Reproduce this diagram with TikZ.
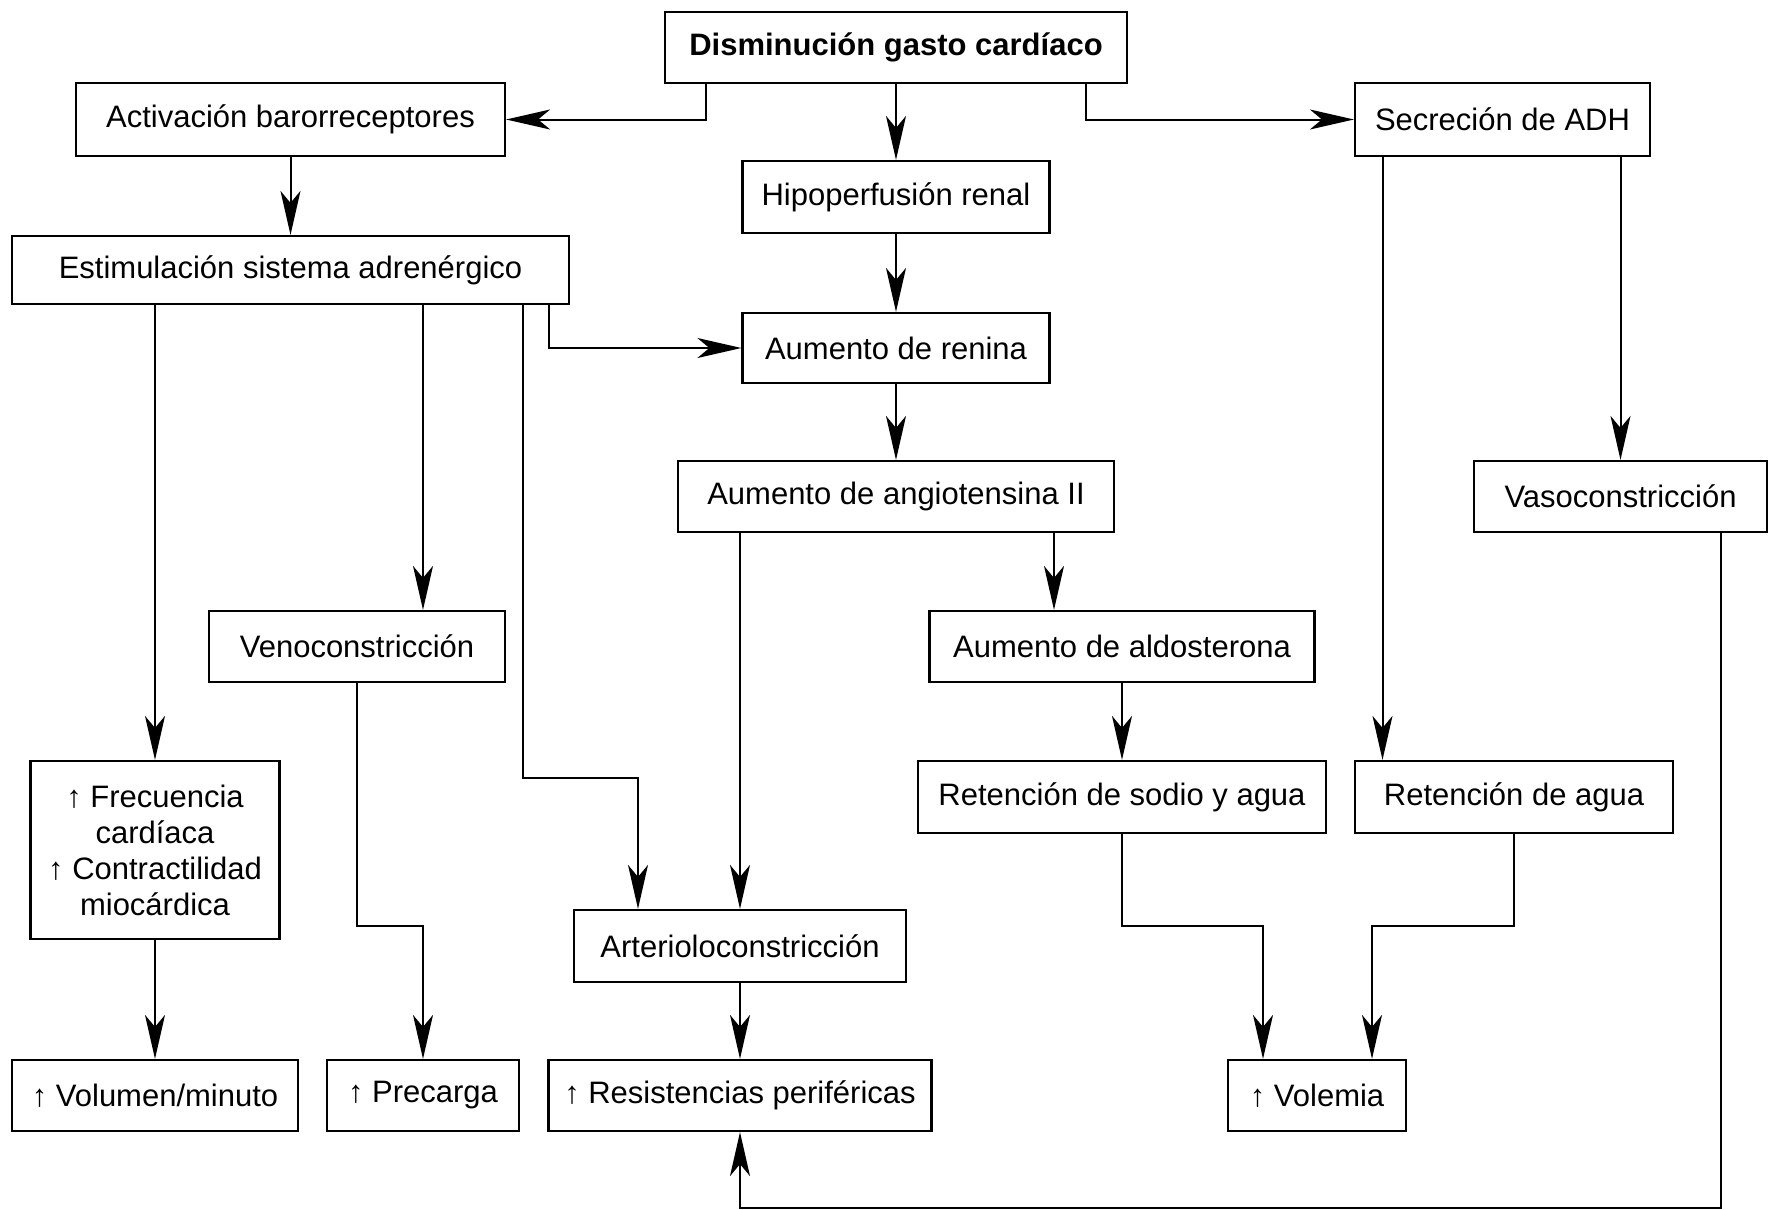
\documentclass[tikz,border=0pt]{standalone}
\usepackage{fontspec}
\setmainfont{Liberation Sans}
\usetikzlibrary{arrows.meta}
\begin{document}
\begin{tikzpicture}[x=0.5pt,y=-0.5pt,
    box/.style={draw,line width=1.1pt,inner sep=0pt,align=center,minimum height=35.5pt,
      font=\fontsize{15.5}{18}\selectfont},
    arr/.style={line width=1pt,-{Stealth[length=22pt,width=10pt,inset=6pt]}}]
  \useasboundingbox (0,0) rectangle (1768,1210);

  \node[box,font=\fontsize{15.5}{18}\selectfont\bfseries,minimum width=231pt] (dis) at (896,47.5) {Disminución gasto cardíaco};
  \node[box,minimum width=214.5pt,minimum height=36.5pt] (act) at (290.5,119.5) {Activación barorreceptores};
  \node[box,minimum width=147.5pt,minimum height=36.5pt] (sec) at (1502.5,119.5) {Secreción de ADH};
  \node[box,minimum width=153.5pt,minimum height=36pt] (hip) at (896,197) {Hipoperfusión renal};
  \node[box,minimum width=278.5pt,minimum height=34pt] (est) at (290.5,270) {Estimulación sistema adrenérgico};
  \node[box,minimum width=153.5pt,minimum height=35pt] (ren) at (896,348) {Aumento de renina};
  \node[box,minimum width=218pt] (ang) at (896,496.5) {Aumento de angiotensina II};
  \node[box,minimum width=146.5pt] (vas) at (1620.5,496.5) {Vasoconstricción};
  \node[box,minimum width=148pt] (ven) at (357,646.5) {Venoconstricción};
  \node[box,minimum width=192.5pt] (ald) at (1122,646.5) {Aumento de aldosterona};
  \node[box,minimum width=124.5pt,minimum height=89pt] (fre) at (155,850) {↑ Frecuencia\\cardíaca\\↑ Contractilidad\\miocárdica};
  \node[box,minimum width=204pt,minimum height=36pt] (rso) at (1122,797) {Retención de sodio y agua};
  \node[box,minimum width=159pt,minimum height=36pt] (rag) at (1514,797) {Retención de agua};
  \node[box,minimum width=166pt,minimum height=36pt] (art) at (740,946) {Arterioloconstricción};
  \node[box,minimum width=143pt] (vol) at (155,1095.5) {↑ Volumen/minuto};
  \node[box,minimum width=96pt] (pre) at (423,1095.5) {↑ Precarga};
  \node[box,minimum width=191.5pt] (res) at (740,1095.5) {↑ Resistencias periféricas};
  \node[box,minimum width=89pt] (vlm) at (1317,1095.5) {↑ Volemia};

  \draw[arr] ([xshift=-95pt]dis.south) |- (act.east);
  \draw[arr] (dis) -- (hip);
  \draw[arr] ([xshift=95pt]dis.south) |- (sec.west);
  \draw[arr] (act) -- (est);
  \draw[arr] (hip) -- (ren);
  \draw[arr] (ren) -- (ang);
  \draw[arr] ([xshift=129pt]est.south) |- (ren.west);
  \draw[arr] (est.south -| fre.north) -- (fre);
  \draw[arr] (est.south -| pre.north) -- (ven.north -| pre.north);
  \draw[arr] ([xshift=116pt]est.south) -- ++(0,-236.5pt) -| ([xshift=-51pt]art.north);
  \draw[arr] (ang.south -| art.north) -- (art);
  \draw[arr] ([xshift=79pt]ang.south) -- ([xshift=79pt]ang.south |- ald.north);
  \draw[arr] ([xshift=-60pt]sec.south) -- ([xshift=-60pt]sec.south |- rag.north);
  \draw[arr] (sec.south -| vas.north) -- (vas);
  \draw[arr] (ald) -- (rso);
  \draw[arr] (ven.south) -- ++(0,-121.5pt) -| (pre.north);
  \draw[arr] (fre) -- (vol);
  \draw[arr] (art) -- (res);
  \draw[arr] (rso.south) -- ++(0,-46pt) -| ([xshift=-27pt]vlm.north);
  \draw[arr] (rag.south) -- ++(0,-46pt) -| ([xshift=27.5pt]vlm.north);
  \draw[arr] ([xshift=50pt]vas.south) -- ++(0,-337.5pt) -| (res.south);
\end{tikzpicture}
\end{document}
